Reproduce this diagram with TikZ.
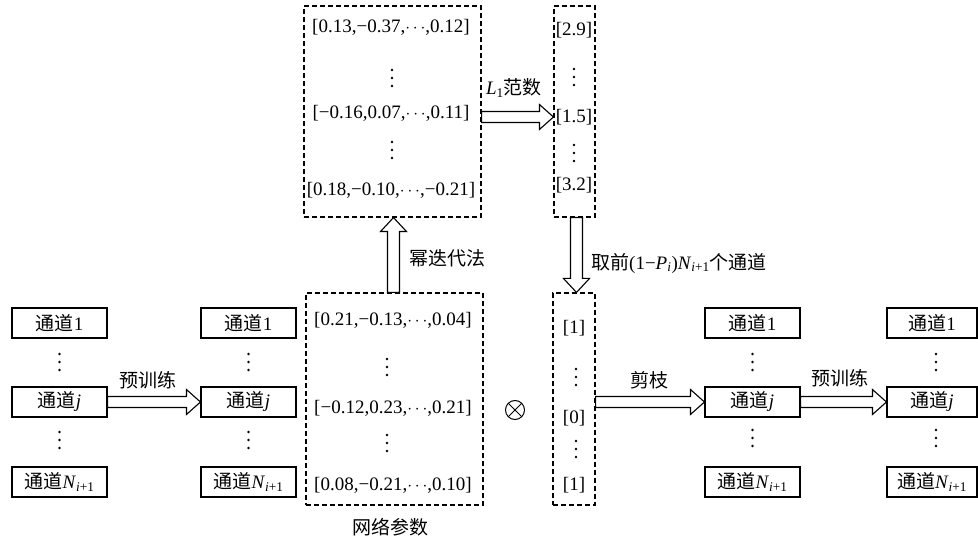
\documentclass[tikz,border=0pt]{standalone}
\usepackage{fontspec}
\setmainfont{Liberation Serif}
\newfontfamily\cjk{Noto Sans CJK SC}
\usetikzlibrary{calc}
\newcommand\hollowH[2]{\draw[hollow] let \p1=#1, \p2=#2 in
  (\x1,\y1+5.5pt) -- (\x2-14pt,\y1+5.5pt) -- (\x2-14pt,\y1+12.5pt) -- (\x2,\y1)
  -- (\x2-14pt,\y1-12.5pt) -- (\x2-14pt,\y1-5.5pt) -- (\x1,\y1-5.5pt) -- cycle;}
\newcommand\hollowV[2]{\draw[hollow] let \p1=#1, \p2=#2, \n1={ifthenelse(\y2>\y1,1,-1)} in
  (\x1+6pt,\y1) -- (\x1+6pt,{\y2-(\n1)*14pt}) -- (\x1+13pt,{\y2-(\n1)*14pt}) -- (\x1,\y2)
  -- (\x1-13pt,{\y2-(\n1)*14pt}) -- (\x1-6pt,{\y2-(\n1)*14pt}) -- (\x1-6pt,\y1) -- cycle;}
\tikzset{
  every node/.style={font=\fontsize{19}{21}\selectfont, inner sep=0pt},
  chan/.style={draw, line width=1.1pt, minimum width=95pt, minimum height=30pt},
  dbox/.style={draw, dash pattern=on 5pt off 3pt, line width=1.1pt},
  hollow/.style={draw, line width=1.1pt, fill=white},
  vdot/.style={minimum width=5pt, minimum height=22pt,
    path picture={\foreach \d in {-8,0,8}
      \fill ([yshift=\d pt]path picture bounding box.center) circle (1.4pt);}},
  otimessym/.style={draw, circle, line width=1pt, minimum size=19pt,
    path picture={\draw[line width=1pt]
      (path picture bounding box.north west) -- (path picture bounding box.south east)
      (path picture bounding box.north east) -- (path picture bounding box.south west);}},
}
\begin{document}
\begin{tikzpicture}[x=1pt,y=-1pt]
\useasboundingbox (0,0) rectangle (978,537);
% column 1
\node[chan] (a1) at (59.5,323) {{\cjk 通道}1};
\node[vdot] (ad1) at (59.5,362) {};
\node[chan] (aj) at (59.5,402) {{\cjk 通道}\textit{j}};
\node[vdot] (ad2) at (59.5,440) {};
\node[chan] (aN) at (59.5,482) {{\cjk 通道}\textit{N}\textsubscript{\textit{i}+1}};
% column 2
\node[chan] (b1) at (248.5,323) {{\cjk 通道}1};
\node[vdot] (bd1) at (248.5,362) {};
\node[chan] (bj) at (248.5,402) {{\cjk 通道}\textit{j}};
\node[vdot] (bd2) at (248.5,440) {};
\node[chan] (bN) at (248.5,482) {{\cjk 通道}\textit{N}\textsubscript{\textit{i}+1}};
% column 3
\node[chan] (c1) at (752.5,323) {{\cjk 通道}1};
\node[vdot] (cd1) at (752.5,362) {};
\node[chan] (cj) at (752.5,402) {{\cjk 通道}\textit{j}};
\node[vdot] (cd2) at (752.5,438) {};
\node[chan] (cN) at (752.5,482) {{\cjk 通道}\textit{N}\textsubscript{\textit{i}+1}};
% column 4
\node[chan, minimum width=90pt] (d1) at (932,323) {{\cjk 通道}1};
\node[vdot] (dd1) at (936,362) {};
\node[chan, minimum width=90pt] (dj) at (932,402) {{\cjk 通道}\textit{j}};
\node[vdot] (dd2) at (936,438) {};
\node[chan, minimum width=90pt] (dN) at (932,482) {{\cjk 通道}\textit{N}\textsubscript{\textit{i}+1}};
% dashed boxes
\node[dbox, minimum width=177pt, minimum height=211pt] (M1) at (392.5,111.5) {};
\node[dbox, minimum width=41pt, minimum height=211pt] (V1) at (574.5,111.5) {};
\node[dbox, minimum width=177pt, minimum height=212pt] (M2) at (394.5,399) {};
\node[dbox, minimum width=42pt, minimum height=212pt] (V2) at (574,399) {};
% matrix 1
\node (m11) at (391,27) {[0.13,−0.37,$\cdots$,0.12]};
\node[vdot] (m12) at (392,78) {};
\node (m13) at (391,113) {[−0.16,0.07,$\cdots$,0.11]};
\node[vdot] (m14) at (392,150) {};
\node (m15) at (391,190) {[0.18,−0.10,$\cdots$,−0.21]};
% vector 1
\node (v11) at (574,30) {[2.9]};
\node[vdot] (v12) at (574,77) {};
\node (v13) at (574,117) {[1.5]};
\node[vdot] (v14) at (574,153) {};
\node (v15) at (574,185) {[3.2]};
% matrix 2
\node (n11) at (393,320) {[0.21,−0.13,$\cdots$,0.04]};
\node[vdot] (n12) at (387,367) {};
\node (n13) at (393,408) {[−0.12,0.23,$\cdots$,0.21]};
\node[vdot] (n14) at (387,443) {};
\node (n15) at (393,485) {[0.08,−0.21,$\cdots$,0.10]};
% vector 2
\node (w11) at (574,328) {[1]};
\node[vdot] (w12) at (576,377) {};
\node (w13) at (574,418) {[0]};
\node[vdot] (w14) at (576,449) {};
\node (w15) at (574,485) {[1]};
% labels
\node (lab1) at (148,380) {\cjk 预训练};
\node (lab2) at (514,88) {\textit{L}\textsubscript{1}{\cjk 范数}};
\node (lab3) at (447,258) {\cjk 幂迭代法};
\node[anchor=west] (lab4) at (591,263) {{\cjk 取前}(1−\textit{P}\textsubscript{\textit{i}})\textit{N}\textsubscript{\textit{i}+1}{\cjk 个通道}};
\node (lab5) at (390,527) {\cjk 网络参数};
\node (lab6) at (649,380) {\cjk 剪枝};
\node (lab7) at (840,378) {\cjk 预训练};
\node[otimessym] (otimes) at (515,410) {};
% arrows
\hollowH{(aj.east)}{(bj.west)}
\hollowH{(M1.east |- v13)}{(V1.west |- v13)}
\coordinate (ux) at (393.5,0);
\hollowV{(ux |- M2.north)}{(ux |- M1.south)}
\coordinate (dx) at (576.5,0);
\hollowV{(dx |- V1.south)}{(dx |- V2.north)}
\hollowH{(V2.east |- cj)}{(cj.west)}
\hollowH{(cj.east)}{(dj.west)}
\end{tikzpicture}
\end{document}
